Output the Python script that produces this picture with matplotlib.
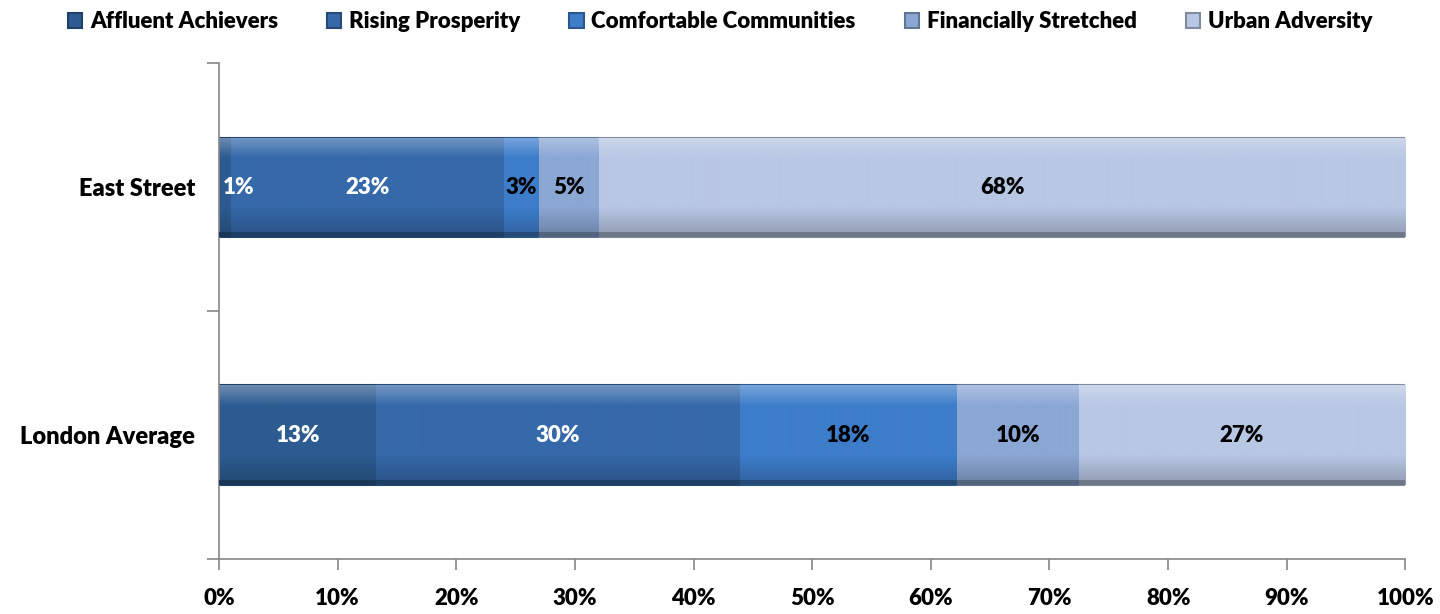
import numpy as np
import matplotlib.pyplot as plt
import matplotlib.colors as mcolors
from matplotlib.ticker import FixedLocator, PercentFormatter

plt.rcParams['font.family'] = ['Lato', 'DejaVu Sans']
plt.rcParams['font.weight'] = 'heavy'

# Data
areas = ['London Average', 'East Street']
segments = ['Affluent Achievers', 'Rising Prosperity', 'Comfortable Communities',
            'Financially Stretched', 'Urban Adversity']
london = [13, 30, 18, 10, 27]
east_street = [1, 23, 3, 5, 68]
colors = ['#2d5b91', '#3669aa', '#3d7dca', '#8ba7d4', '#b8c7e3']
label_colors = ['white', 'white', 'black', 'black', 'black']

values = np.array([london, east_street], dtype=float)
shares = values / values.sum(axis=1, keepdims=True) * 100

fig = plt.figure(figsize=(14.4, 6.14), dpi=100)
ax = fig.add_axes([0.152, 0.0896, 0.824, 0.8074])

bar_h = 0.4
ypos = np.arange(len(areas))
grad = np.linspace(0, 1, 100).reshape(-1, 1)


def shade(color, f):
    c = np.array(mcolors.to_rgb(color))
    if f >= 0:
        return tuple(c + (1 - c) * f)
    return tuple(c * (1 + f))


left = np.zeros(len(areas))
for i, seg in enumerate(segments):
    bars = ax.barh(ypos, shares[:, i], left=left, height=bar_h, color=colors[i],
                   edgecolor=shade(colors[i], -0.3), linewidth=1.5, label=seg, zorder=2)
    # bevel look: light rim on top, flat middle, slightly darker lower part
    cmap = mcolors.LinearSegmentedColormap.from_list(seg, [
        (0.0, shade(colors[i], 0.3)), (0.1, shade(colors[i], 0.15)),
        (0.2, colors[i]), (0.7, colors[i]), (1.0, shade(colors[i], -0.22))])
    for b in bars:
        x0, y0 = b.get_x(), b.get_y()
        im = ax.imshow(grad, cmap=cmap, aspect='auto', zorder=2.5, interpolation='bilinear',
                       extent=[x0, x0 + b.get_width(), y0, y0 + b.get_height()])
        im.set_clip_path(b)
        # dark strip along the bottom edge
        ax.barh(y0 + 0.01, b.get_width(), left=x0, height=0.02,
                color=shade(colors[i], -0.4), zorder=2.6, linewidth=0)
    for j, b in enumerate(bars):
        cx = b.get_x() + b.get_width() / 2
        ax.text(max(cx, 1.7), ypos[j], f'{values[j, i]:.0f}%', ha='center', va='center',
                color=label_colors[i], fontsize=16, fontweight='heavy', zorder=4)
    left += shares[:, i]

ax.set_xlim(0, 100)
ax.set_ylim(-0.5, 1.5)
ax.set_xticks(np.arange(0, 101, 10))
ax.xaxis.set_major_formatter(PercentFormatter(decimals=0))
ax.set_yticks(ypos)
ax.set_yticklabels(areas)
ax.yaxis.set_minor_locator(FixedLocator([-0.5, 0.5, 1.5]))
ax.tick_params(axis='y', which='major', length=0, pad=17, labelsize=17)
ax.tick_params(axis='y', which='minor', length=9, width=1.2, color='#868686')
ax.tick_params(axis='x', length=8, width=1.2, color='#868686', pad=13, labelsize=16)
for t in ax.get_xticklabels() + ax.get_yticklabels():
    t.set_fontweight('heavy')

for s in ['top', 'right']:
    ax.spines[s].set_visible(False)
for s in ['left', 'bottom']:
    ax.spines[s].set_color('#868686')
    ax.spines[s].set_linewidth(1.2)

leg = fig.legend(*ax.get_legend_handles_labels(), loc='center', bbox_to_anchor=(0.5, 0.965),
                 ncol=5, frameon=False, handlelength=0.65, handleheight=0.65,
                 handletextpad=0.35, columnspacing=2.2, prop={'weight': 'heavy', 'size': 16})

fig.savefig('out.png', dpi=100)
